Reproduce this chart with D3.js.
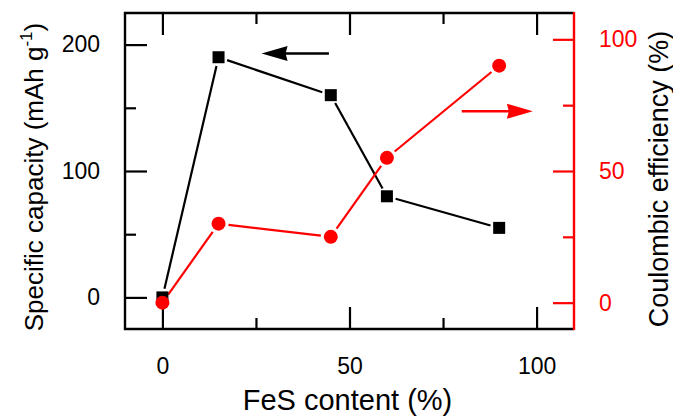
<!DOCTYPE html>
<meta charset="utf-8">
<title>FeS content</title>
<style>
  body { margin: 0; background: #fff; }
  text { font-family: "Liberation Sans", Arial, sans-serif; }
</style>
<body>
<script src="https://d3js.org/d3.v7.min.js"></script>
<script>

// data
var fesContent = [0, 15, 45, 60, 90];
var capacity = [0, 190, 160, 80, 55];      // mAh g-1, left axis
var efficiency = [0, 30, 25, 55, 90];      // %, right axis

var xTicks = [0, 50, 100], xMinor = [25, 75];
var yTicks = [0, 100, 200], yMinor = [50, 150];
var y2Ticks = [0, 50, 100], y2Minor = [25, 75];

// arrows [x from, x to, y] in data units of the axis they point to
var capArrow = [44.5, 26.5, 193];
var effArrow = [80, 99, 72.7];

var width = 673,
    height = 419,
    plotL = 125, plotR = 574, plotT = 13, plotB = 329;

var x = d3.scaleLinear().domain([-10, 110]).range([plotL, plotR]);
var y = d3.scaleLinear().domain([-25, 225]).range([plotB, plotT]);
var y2 = d3.scaleLinear().domain([-10, 110]).range([plotB, plotT]);

var svg = d3.select("body").append("svg")
    .attr("width", width)
    .attr("height", height);

var red = "#ff0000";

// axes, ticks pointing inward
function styleAxis(g, color) {
  g.select(".domain").remove();
  g.selectAll("line").attr("stroke", color).attr("stroke-width", 2.2);
  g.selectAll("text").attr("fill", color).attr("font-size", 23);
}

svg.append("g").attr("transform", "translate(0," + plotB + ")")
    .call(d3.axisBottom(x).tickValues(xTicks).tickSize(-22).tickFormat(d3.format("d")))
    .call(styleAxis, "#000")
    .selectAll("text").attr("y", 45).attr("dy", 0);
svg.append("g").attr("transform", "translate(0," + plotB + ")")
    .call(d3.axisBottom(x).tickValues(xMinor).tickSize(-11).tickFormat(""))
    .call(styleAxis, "#000");
svg.append("g").attr("transform", "translate(0," + plotT + ")")
    .call(d3.axisTop(x).tickValues(xTicks).tickSize(-22).tickFormat(""))
    .call(styleAxis, "#000");
svg.append("g").attr("transform", "translate(0," + plotT + ")")
    .call(d3.axisTop(x).tickValues(xMinor).tickSize(-11).tickFormat(""))
    .call(styleAxis, "#000");

svg.append("g").attr("transform", "translate(" + plotL + ",0)")
    .call(d3.axisLeft(y).tickValues(yTicks).tickSize(-22))
    .call(styleAxis, "#000")
    .selectAll("text").attr("x", -25);
svg.append("g").attr("transform", "translate(" + plotL + ",0)")
    .call(d3.axisLeft(y).tickValues(yMinor).tickSize(-11).tickFormat(""))
    .call(styleAxis, "#000");

svg.append("g").attr("transform", "translate(" + plotR + ",0)")
    .call(d3.axisRight(y2).tickValues(y2Ticks).tickSize(-21))
    .call(styleAxis, red)
    .selectAll("text").attr("x", 25);
svg.append("g").attr("transform", "translate(" + plotR + ",0)")
    .call(d3.axisRight(y2).tickValues(y2Minor).tickSize(-11).tickFormat(""))
    .call(styleAxis, red);

// frame
svg.append("path")
    .attr("d", "M" + plotR + "," + plotT + "H" + plotL + "V" + plotB + "H" + plotR)
    .attr("fill", "none").attr("stroke", "#000").attr("stroke-width", 2.4);
svg.append("line")
    .attr("x1", plotR).attr("x2", plotR).attr("y1", plotT - 1).attr("y2", plotB + 1)
    .attr("stroke", red).attr("stroke-width", 2.4);

// connecting segments stop short of the markers
function segments(xs, ys, sc, gap) {
  var out = [];
  for (var i = 0; i < xs.length - 1; i++) {
    var x1 = x(xs[i]), y1 = sc(ys[i]), x2 = x(xs[i + 1]), y2p = sc(ys[i + 1]);
    var dx = x2 - x1, dy = y2p - y1, len = Math.sqrt(dx * dx + dy * dy);
    out.push({x1: x1 + dx / len * gap, y1: y1 + dy / len * gap,
              x2: x2 - dx / len * gap, y2: y2p - dy / len * gap});
  }
  return out;
}

function drawSegs(data, color) {
  svg.append("g").selectAll("line")
    .data(data)
    .enter().append("line")
    .attr("x1", function(d) { return d.x1; })
    .attr("y1", function(d) { return d.y1; })
    .attr("x2", function(d) { return d.x2; })
    .attr("y2", function(d) { return d.y2; })
    .attr("stroke", color).attr("stroke-width", 2.2);
}

drawSegs(segments(fesContent, capacity, y, 9), "#000");
drawSegs(segments(fesContent, efficiency, y2, 10), red);

svg.append("g").selectAll("rect")
    .data(fesContent)
    .enter().append("rect")
    .attr("x", function(d) { return x(d) - 6; })
    .attr("y", function(d, i) { return y(capacity[i]) - 6; })
    .attr("width", 12).attr("height", 12)
    .attr("fill", "#000");

svg.append("g").selectAll("circle")
    .data(fesContent)
    .enter().append("circle")
    .attr("cx", function(d) { return x(d); })
    .attr("cy", function(d, i) { return y2(efficiency[i]); })
    .attr("r", 7)
    .attr("fill", red);

// arrows
function arrow(a, sc, color) {
  var x1 = x(a[0]), x2 = x(a[1]), yy = sc(a[2]);
  var dir = x2 > x1 ? 1 : -1, head = 26;
  svg.append("line")
    .attr("x1", x1).attr("x2", x2 - dir * (head - 4)).attr("y1", yy).attr("y2", yy)
    .attr("stroke", color).attr("stroke-width", 2.4);
  svg.append("path")
    .attr("d", "M" + x2 + "," + yy + "L" + (x2 - dir * head) + "," + (yy - 7.5) +
               "L" + (x2 - dir * (head - 2)) + "," + yy +
               "L" + (x2 - dir * head) + "," + (yy + 7.5) + "Z")
    .attr("fill", color);
}
arrow(capArrow, y, "#000");
arrow(effArrow, y2, red);

// titles
svg.append("text")
    .attr("x", (plotL + plotR) / 2 - 2).attr("y", 410)
    .attr("text-anchor", "middle").attr("font-size", 29)
    .text("FeS content (%)");

var t = svg.append("text")
    .attr("transform", "translate(43,177) rotate(-90)")
    .attr("text-anchor", "middle").attr("font-size", 26);
t.append("tspan").text("Specific capacity (mAh g");
t.append("tspan").attr("font-size", 17).attr("dy", -11).text("-1");
t.append("tspan").attr("dy", 11).text(")");

svg.append("text")
    .attr("transform", "translate(668,179) rotate(-90)")
    .attr("text-anchor", "middle").attr("font-size", 27)
    .text("Coulombic efficiency (%)");

</script>
</body>
